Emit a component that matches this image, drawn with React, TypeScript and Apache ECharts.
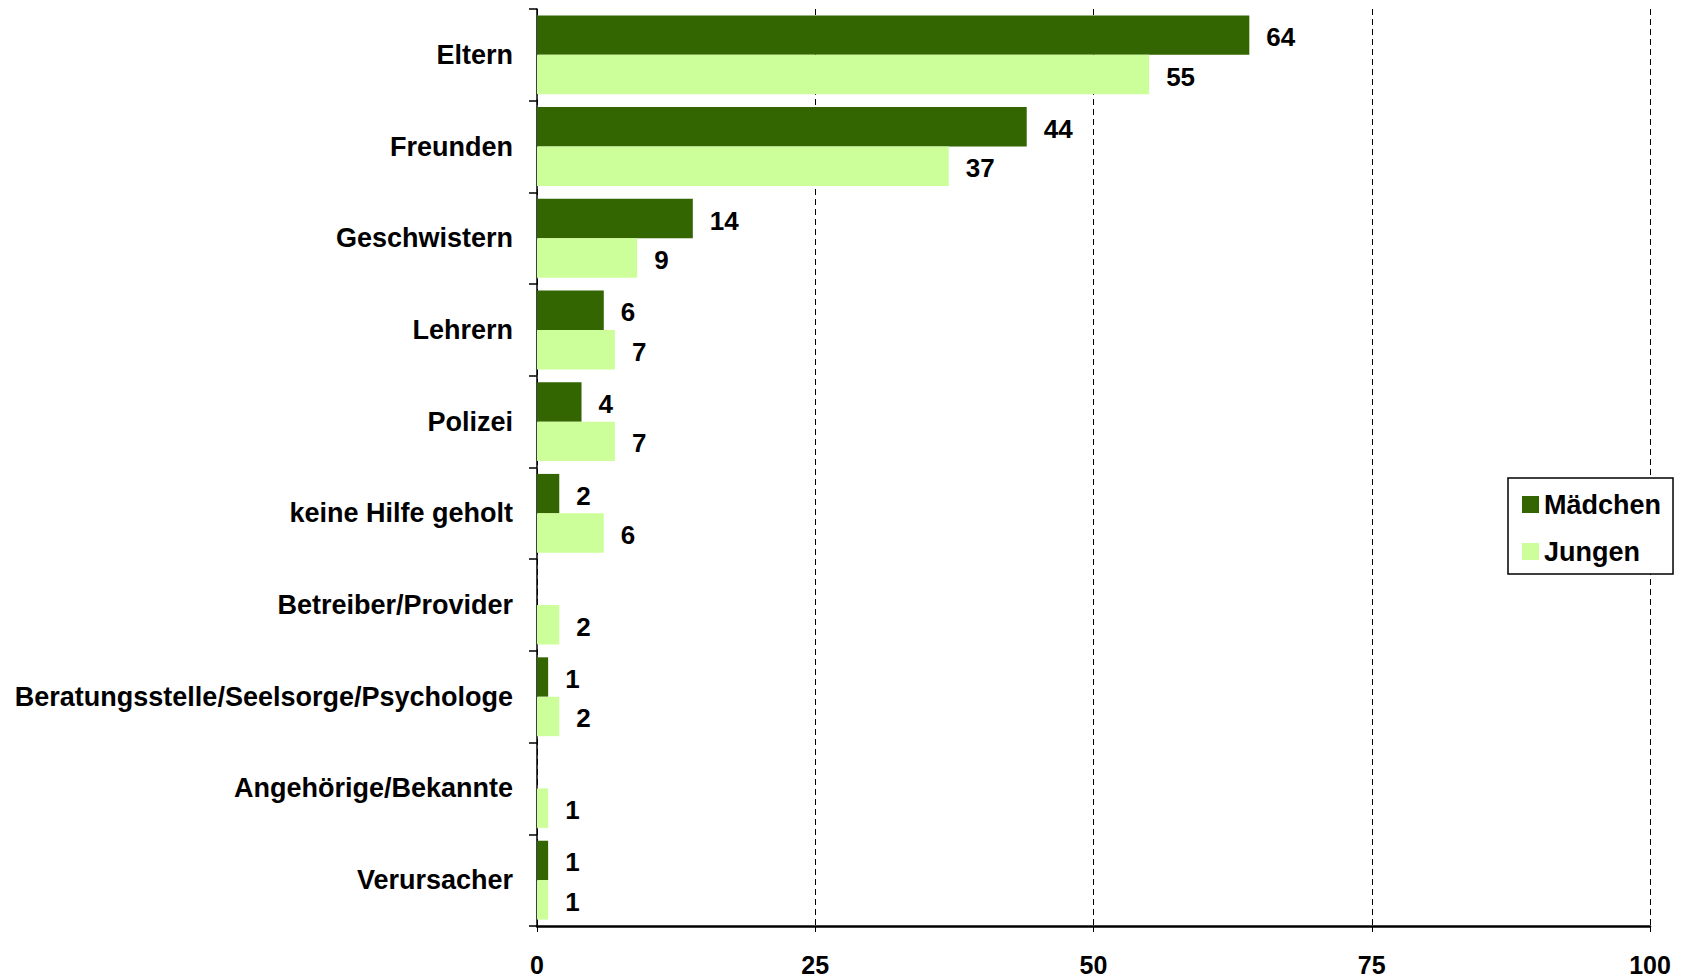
import React, { useEffect, useRef } from "react";
import * as echarts from "echarts";

const categories = [
  "Eltern",
  "Freunden",
  "Geschwistern",
  "Lehrern",
  "Polizei",
  "keine Hilfe geholt",
  "Betreiber/Provider",
  "Beratungsstelle/Seelsorge/Psychologe",
  "Angehörige/Bekannte",
  "Verursacher",
];
const seriesNames = ["Mädchen", "Jungen"];
const maedchen = [64, 44, 14, 6, 4, 2, null, 1, null, 1];
const jungen = [55, 37, 9, 7, 7, 6, 2, 2, 1, 1];
const xMin = 0;
const xMax = 100;
const xInterval = 25;

const FONT = "'Liberation Sans', Arial, sans-serif";

export default function App() {
  const ref = useRef<HTMLDivElement>(null);
  useEffect(() => {
    if (!ref.current) return;
    const chart = echarts.init(ref.current, null, { renderer: "svg" });
    const labelStyle = {
      show: true,
      position: "right" as const,
      distance: 17,
      offset: [0, 2],
      color: "#000",
      fontFamily: FONT,
      fontWeight: "bold" as const,
      fontSize: 26,
    };
    chart.setOption({
      animation: false,
      backgroundColor: "#fff",
      textStyle: { fontFamily: FONT },
      grid: { left: 537, right: 35, top: 9, bottom: 54, containLabel: false },
      legend: {
        orient: "vertical",
        left: 1508,
        top: 478,
        padding: [13, 12, 9, 14],
        itemWidth: 17,
        itemHeight: 17,
        itemGap: 20,
        icon: "rect",
        backgroundColor: "#fff",
        borderColor: "#000",
        borderWidth: 1.5,
        borderRadius: 0,
        textStyle: { fontFamily: FONT, fontWeight: "bold", fontSize: 27, color: "#000" },
        data: seriesNames,
      },
      xAxis: {
        type: "value",
        min: xMin,
        max: xMax,
        interval: xInterval,
        axisLine: { show: true, lineStyle: { color: "#000", width: 2.5 } },
        axisTick: { show: true, length: 6, lineStyle: { color: "#000", width: 1 } },
        axisLabel: { margin: 26, color: "#000", fontFamily: FONT, fontWeight: "bold", fontSize: 25 },
        splitLine: { show: true, lineStyle: { color: "#000", type: [6, 4], width: 1 } },
      },
      yAxis: {
        type: "category",
        inverse: true,
        data: categories,
        axisLine: { show: true, lineStyle: { color: "#000", width: 1.5 } },
        axisTick: { show: true, length: 8, lineStyle: { color: "#000", width: 1.5 } },
        axisLabel: { margin: 24, color: "#000", fontFamily: FONT, fontWeight: "bold", fontSize: 27 },
        splitLine: { show: false },
      },
      series: [
        {
          name: seriesNames[0],
          type: "bar",
          data: maedchen,
          barGap: "0%",
          barCategoryGap: "14%",
          itemStyle: { color: "#336600" },
          label: labelStyle,
        },
        {
          name: seriesNames[1],
          type: "bar",
          data: jungen,
          barGap: "0%",
          barCategoryGap: "14%",
          itemStyle: { color: "#CCFF99" },
          label: labelStyle,
        },
      ],
    });
    return () => chart.dispose();
  }, []);
  return (
    <div
      ref={ref}
      style={{ position: "fixed", left: 0, top: 0, width: 1685, height: 980, background: "#fff" }}
    />
  );
}
